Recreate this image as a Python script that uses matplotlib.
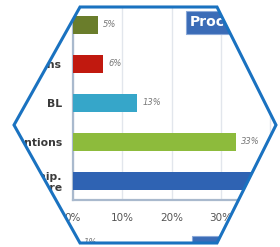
import numpy as np
import matplotlib
matplotlib.use('Agg')
import matplotlib.pyplot as plt
from matplotlib.path import Path
from matplotlib.patches import PathPatch, Polygon

# data (top to bottom as in the picture)
categories = ['Other', 'Complications', 'BL', 'Interventions', 'Relationship.\nStructure']
values = [5, 6, 13, 33, 45]
bar_colors = ['#6a7d2b', '#c1190f', '#36a6c9', '#8dbb3c', '#2f63b3']
xticks = [0, 10, 20, 30, 40]
title = 'Procedures'

# second panel peeking in at the bottom
lower_categories = ['Other']
lower_values = [1]

W, H = 280, 247

def fx(x):
	return x / W

def fy(y):
	return 1 - y / H

fig = plt.figure(figsize=(W / 100, H / 100), dpi=100)
fig.patch.set_facecolor('white')

# main chart: 0 at x=73px, 10% = 49.25px; x axis at y=200px, bar pitch 39px
x0, x1 = 73, 73 + 5 * 49.25
y_bot, y_top = 200, 200 - 5.09 * 39
ax = fig.add_axes([fx(x0), fy(y_bot), fx(x1) - fx(x0), fy(y_top) - fy(y_bot)])
pos = np.arange(len(categories))[::-1]
ax.barh(pos, values, height=0.47, color=bar_colors, edgecolor='none', zorder=3)
for p, v in zip(pos, values):
	ax.annotate('%d%%' % v, (v, p), xytext=(4, 0), textcoords='offset points',
				va='center', ha='left', fontsize=6, style='italic', color='#777777')
ax.set_xlim(0, 50)
ax.set_ylim(-0.49, 4.6)
ax.set_xticks(xticks)
ax.set_xticklabels(['%d%%' % t for t in xticks], fontsize=7.5, color='#555555')
ax.set_yticks(pos)
ax.set_yticklabels(categories, fontsize=7.8, fontweight='bold', color='#3a3a3a')
ax.tick_params(axis='x', length=0, pad=9)
ax.tick_params(axis='y', length=0, pad=8)
ax.grid(axis='x', color='#e2e6ec', lw=1)
ax.set_axisbelow(True)
for s in ['top', 'right']:
	ax.spines[s].set_visible(False)
for s in ['left', 'bottom']:
	ax.spines[s].set_color('#a9b9cd')
	ax.spines[s].set_linewidth(1.6)

fig.text(fx(190), fy(22.5), title, fontsize=10, fontweight='bold', color='white',
		 va='center', ha='left', zorder=5,
		 bbox=dict(boxstyle='square,pad=0.3', facecolor='#3b6cb7', edgecolor='#8aa8d8', lw=0.8))

# lower panel
ax2 = fig.add_axes([fx(x0), fy(275), fx(x1) - fx(x0), fy(232) - fy(275)])
ax2.barh([0], lower_values, height=0.4, color='#2f63b3')
for v in lower_values:
	ax2.annotate('%d%%' % v, (v, 0), xytext=(4, 0), textcoords='offset points',
				 va='center', ha='left', fontsize=6, style='italic', color='#777777')
ax2.set_xlim(0, 50)
ax2.set_ylim(-1.5, 0.5)
ax2.axis('off')
fig.text(fx(196), fy(247.5), title, fontsize=10, fontweight='bold', color='white',
		 va='center', ha='left', zorder=5,
		 bbox=dict(boxstyle='square,pad=0.3', facecolor='#3b6cb7', edgecolor='#8aa8d8', lw=0.8))

# hexagon mask
hexagon = [(80, 7), (217, 7), (276, 125), (217, 243), (80, 243), (14, 125)]
axm = fig.add_axes([0, 0, 1, 1])
axm.set_zorder(10)
axm.set_xlim(0, W)
axm.set_ylim(H, 0)
axm.axis('off')
axm.patch.set_alpha(0)
outer = [(-5, -5), (W + 5, -5), (W + 5, H + 5), (-5, H + 5), (-5, -5)]
inner = hexagon[::-1] + [hexagon[-1]]
verts = outer + inner
codes = [Path.MOVETO] + [Path.LINETO] * 3 + [Path.CLOSEPOLY] + \
		[Path.MOVETO] + [Path.LINETO] * (len(hexagon) - 1) + [Path.CLOSEPOLY]
axm.add_patch(PathPatch(Path(verts, codes), facecolor='white', edgecolor='none'))
axm.add_patch(Polygon(hexagon, closed=True, fill=False, edgecolor='#1a72c0', lw=2.2, joinstyle='miter'))

fig.savefig('out.png', dpi=100)
